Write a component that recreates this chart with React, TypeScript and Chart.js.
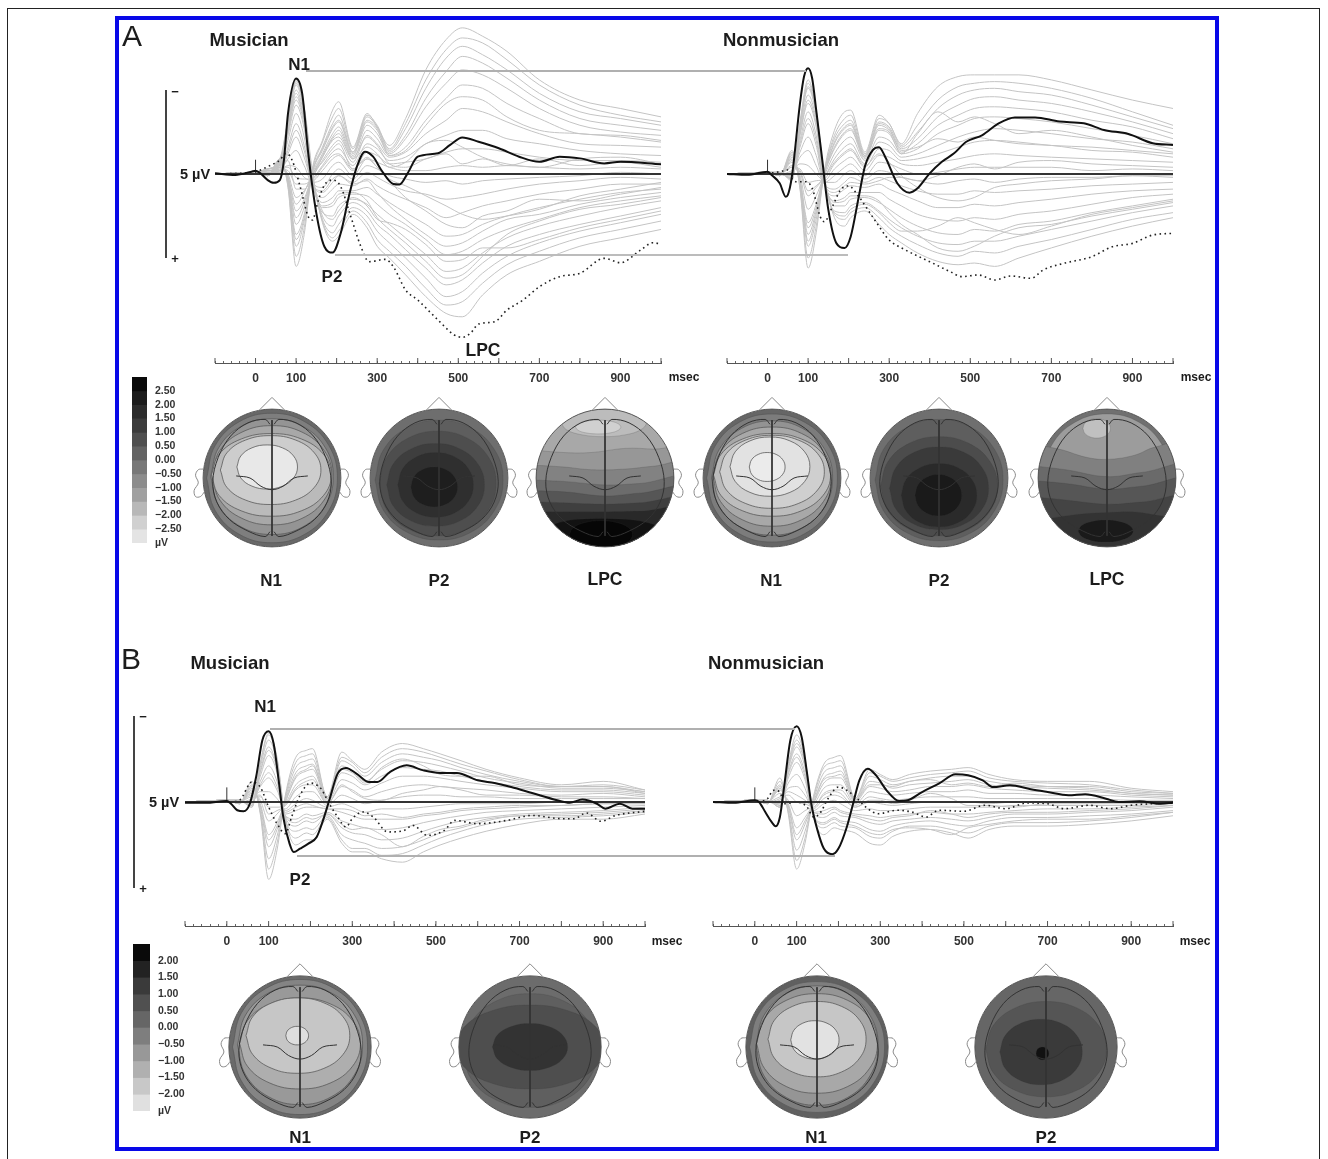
import React, { useEffect, useRef } from "react";
import { Chart, registerables } from "chart.js";

Chart.register(...registerables);

const FONT = '"Liberation Sans", Arial, sans-serif';

// ---------- time grids (ms) ----------
const grayTimes = [-100,0,30,60,80,100,120,140,165,190,205,240,275,300,330,370,420,470,510,560,620,700,800,900,1000];
const axisLabels = [0,100,300,500,700,900];
const stimulusSpike = [0,-.85];

// ---------- Panel A, Musician ----------
const aMusSolidT = [-100,-50,-10,0,10,30,45,60,70,80,100,115,130,150,170,190,210,230,250,270,290,310,340,355,375,400,450,480,510,550,600,650,700,750,800,860,900,1000];
const aMusSolid = [-.04,.06,-.14,-.2,-.08,.36,.52,.36,-.83,-3.6,-5.69,-4.8,-1.23,2.34,4.33,4.68,3.53,1.35,-.44,-1.33,-1.03,-.24,.6,.63,-.04,-1.03,-1.23,-1.73,-2.18,-1.92,-1.53,-1.03,-.73,-1.03,-.93,-.63,-.73,-.58];
const aMusDotT = [-100,0,30,60,75,90,110,130,140,155,170,190,210,235,260,280,320,340,370,400,450,490,510,530,550,590,620,660,700,750,800,860,900,950,980,1000];
const aMusDot = [0,-.14,-.44,-.83,-1.23,-.83,.75,2.54,2.74,1.55,.65,.36,.75,2.54,4.33,5.22,5.08,5.52,6.9,7.5,8.69,9.58,9.72,9.48,8.93,8.79,8.1,7.5,6.71,6.11,5.91,5.02,5.28,4.52,4.09,4.17];
const aMusGray = [
[0,-.1,.1,-.9,.8,5.5,3.6,-.3,-2,-3.8,-4.3,-1.6,-3.6,-2.8,-1.7,-3.3,-6.2,-8,-8.7,-8.2,-7.3,-5.6,-4.4,-3.9,-3.4],
[0,-.1,.1,-.9,.7,4.9,3.2,-.2,-1.9,-3.4,-3.9,-1.5,-3.5,-2.9,-1.5,-3,-5.6,-7.4,-8.1,-7.8,-6.8,-5.3,-4.1,-3.5,-3.1],
[0,-.1,.1,-.8,.5,4.3,2.8,-.1,-1.6,-3,-3.5,-1.3,-3.4,-2.8,-1.4,-2.7,-5.1,-6.9,-7.6,-7.1,-6.2,-4.8,-3.7,-3.3,-2.9],
[0,-.1,.1,-.7,.4,3.6,2.4,-.1,-1.4,-2.7,-3.1,-1.2,-3.1,-2.6,-1.3,-2.3,-4.5,-6.1,-7,-6.6,-5.7,-4.4,-3.3,-2.9,-2.6],
[0,-.1,.1,-.6,.3,3,2,0,-1.2,-2.4,-2.8,-1.1,-2.9,-2.4,-1.2,-2.1,-4,-5.4,-6.2,-5.9,-5.1,-3.9,-2.9,-2.5,-2.3],
[0,-.1,0,-.5,.1,2.2,1.5,.1,-1,-2.1,-2.4,-.9,-2.6,-2.1,-1.1,-1.6,-3.2,-4.5,-5.3,-5.1,-4.2,-3.3,-2.4,-2.3,-2],
[0,-.1,0,-.4,0,1.4,1,.2,-.8,-1.7,-2,-.7,-2.3,-1.8,-1,-1.3,-2.4,-3.2,-3.9,-3.7,-3.1,-2.4,-1.8,-1.7,-1.6],
[0,-.1,0,-.3,-.2,.6,.6,.3,-.5,-1.3,-1.5,-.5,-1.8,-1.5,-.8,-1,-1.8,-2.3,-2.6,-2.6,-2.1,-1.8,-1.4,-1.2,-1.1],
[0,-.1,0,-.2,-.5,-.4,.2,.4,-.2,-.9,-1.1,-.2,-1.3,-1.1,-.6,-.7,-.9,-1.3,-1.5,-1.5,-1.3,-1,-.8,-.8,-.7],
[0,-.1,-.1,-.2,-.9,-1.4,-.5,.5,.3,-.5,-.7,.1,-.9,-.7,-.4,-.2,-.2,-.4,-.5,-.4,-.5,-.4,-.3,-.4,-.3],
[0,-.1,-.1,-.1,-1.2,-2.2,-1,.5,.8,0,-.3,.3,-.5,-.3,.1,.3,.5,.4,.6,.4,.3,.2,.1,-.1,0],
[0,-.1,-.1,-.1,-1.6,-3,-1.7,.6,1.1,.5,.1,.5,-.1,.2,.6,1,1.2,1.5,1.4,1.2,.9,.6,.4,.2,.3],
[0,-.1,-.2,-.2,-2,-3.6,-2.2,.6,1.4,.9,.6,.7,.3,.7,1.1,1.5,2,2.6,2.3,1.9,1.6,1.2,.9,.6,.6],
[0,-.1,-.2,-.3,-2.3,-4.1,-2.7,.5,1.7,1.4,1,1,.8,1.2,1.7,2.3,3,3.7,3.6,3,2.5,2,1.5,1.1,.9],
[0,-.1,-.2,-.4,-2.6,-4.6,-3.1,.4,2,1.9,1.4,1.2,1.3,1.8,2.4,3,3.9,4.8,4.6,3.9,3.3,2.7,2,1.6,1.3],
[0,-.1,-.3,-.5,-2.8,-5,-3.4,.3,2.3,2.5,1.9,1.5,1.8,2.4,3,3.8,4.8,5.8,5.6,4.7,3.8,3.1,2.5,2,1.6],
[0,-.1,-.3,-.6,-3,-5.3,-3.6,.2,2.5,3.1,2.5,1.7,2.2,3,3.6,4.5,5.6,6.6,6.3,5.3,4.3,3.6,3,2.5,2],
[0,-.1,-.3,-.7,-3.1,-5.4,-3.8,.1,2.7,3.5,3,2,2.5,3.4,4.1,5,6.2,7.3,7,5.9,4.9,4.1,3.4,2.9,2.4],
[0,-.1,-.3,-.8,-3.2,-5.5,-3.9,0,2.8,3.8,3.4,2.2,2.9,3.9,4.6,5.5,6.8,7.8,7.6,6.5,5.4,4.6,3.8,3.3,2.8],
[0,-.1,-.3,-.9,-3.2,-5.6,-4,-.2,2.9,4,3.7,2.4,3.2,4.3,5,6,7.3,8.3,8.5,7.2,6,5.2,4.3,3.8,3.3],
[0,-.1,.1,-.4,.2,1.8,1.1,0,-.7,-1.5,-1.8,-.3,-1,-.4,.4,1.4,2.2,3,3.2,2.5,2.2,1.5,1.6,1.2,.8],
[0,-.1,0,-.5,-.8,.9,.9,.2,-1,-2,-2.2,-.9,-1.6,-1.2,-.4,-.7,-1.8,-2,-1.6,-1,-.6,-.4,-.9,-1,-.6],
[0,-.1,.1,-.6,.3,2.6,1.7,.1,-1.1,-2.2,-2.6,-1,-2.2,-1.7,-.6,-.4,-.9,-1.2,-.6,-.9,-.5,-.9,-.5,-.7,-.4],
[0,-.1,0,-.4,-.4,.2,.3,.3,-.4,-1.1,-1.2,-.3,-.9,-.4,.3,.7,1.3,1.9,2.4,2.7,2.5,2.1,1.3,.9,.5],
[0,-.1,-.1,-.2,-1.4,-2.6,-1.4,.6,1,.3,.1,.6,.4,1.1,1.9,2.7,3.6,4.3,4.1,3.4,2.7,2.4,1.8,1.4,1.1],
[0,-.1,-.2,-.4,-2.5,-4.4,-2.9,.4,1.9,1.7,1.2,1.1,1.6,2.6,3.3,4.1,5.2,6.2,6,4.9,3.6,2.8,2.1,1.8,1.4],
[0,-.1,.1,-.7,.5,3.9,2.6,-.1,-1.5,-2.8,-3.2,-1.3,-3.2,-2.7,-1.1,-1.4,-2.9,-4.2,-4.6,-4.4,-3.4,-2.6,-2.4,-2.2,-1.9],
[0,-.1,-.2,-.6,-2.8,-4.8,-3.2,.2,2.2,2.7,2.2,1.4,1.9,2.7,2.9,3.3,4.2,5.2,5.1,4.4,4.4,3.9,3.2,2.7,2.2],
];

// ---------- Panel A, Nonmusician ----------
const aNonSolidT = [-100,-50,0,10,30,45,50,60,80,90,100,110,120,135,150,170,190,205,225,240,260,275,290,320,350,370,400,430,460,490,530,570,610,660,720,780,830,890,950,1000];
const aNonSolid = [0,.05,-.14,.06,.55,1.35,1.25,.16,-4.2,-5.8,-6.29,-5.7,-3.8,-.83,2.14,4.13,4.4,3.73,1.35,-.44,-1.43,-1.59,-1.03,.55,1.11,.85,-.04,-.73,-1.23,-1.92,-2.32,-3.02,-3.37,-3.37,-3.12,-3.02,-2.62,-2.38,-1.83,-1.73];
const aNonDotT = [-100,0,30,50,60,70,95,110,130,140,160,180,200,225,245,270,300,340,400,450,480,520,560,600,650,680,730,800,850,900,950,1000];
const aNonDot = [0,-.04,-.14,-.24,.26,.46,.46,.85,2.54,2.84,1.94,.95,.71,1.35,2.04,2.94,3.93,4.52,5.22,5.81,6.11,6.01,6.31,6.07,6.21,5.71,5.32,4.92,4.33,4.13,3.63,3.53];
const aNonGray = [
[0,-.1,.1,-1.4,.9,5.6,3.5,-.2,-2.6,-3.7,-3.8,-1.3,-3.5,-3,-1.8,-3.6,-5.2,-5.8,-5.9,-5.9,-5.9,-5.6,-5,-4.4,-3.9],
[0,-.1,.1,-1.3,.8,5,3.1,-.1,-2.3,-3.3,-3.5,-1.2,-3.3,-3,-1.7,-2.9,-4.4,-5.2,-5.4,-5.5,-5.4,-5.1,-4.5,-3.7,-2.9],
[0,-.1,.1,-1.2,.6,4.3,2.7,-.1,-2.1,-3,-3.2,-1.1,-3.1,-2.8,-1.6,-2.5,-3.9,-4.7,-5,-5.1,-4.9,-4.7,-4.1,-3.4,-2.7],
[0,-.1,.1,-1,.5,3.6,2.2,0,-1.8,-2.7,-2.9,-1,-2.9,-2.6,-1.5,-2.1,-3.4,-4.1,-4.5,-4.6,-4.4,-4.2,-3.7,-3.1,-2.4],
[0,-.1,.1,-.9,.3,2.9,1.8,0,-1.5,-2.4,-2.6,-.9,-2.6,-2.4,-1.3,-1.8,-2.9,-3.5,-3.9,-4,-3.9,-3.7,-3.2,-2.8,-2.1],
[0,-.1,.1,-.7,.1,2.1,1.3,.1,-1.2,-2,-2.2,-.8,-2.2,-2,-1.2,-1.5,-2.4,-2.9,-3.3,-3.4,-3.3,-3.1,-2.7,-2.3,-1.8],
[0,-.1,0,-.5,-.1,1.3,.8,.2,-.9,-1.6,-1.8,-.6,-1.9,-1.7,-1,-1.2,-1.7,-2.2,-2.5,-2.7,-2.6,-2.4,-2.1,-1.9,-1.5],
[0,-.1,0,-.4,-.3,.5,.4,.3,-.6,-1.2,-1.4,-.4,-1.5,-1.4,-.8,-.9,-1.2,-1.6,-1.9,-2,-1.9,-1.7,-1.6,-1.4,-1.2],
[0,-.1,0,-.2,-.6,-.5,0,.4,-.3,-.8,-1,-.2,-1.1,-1,-.6,-.5,-.7,-.9,-1.1,-1.2,-1.1,-1,-.9,-.8,-.7],
[0,-.1,0,-.1,-1,-1.4,-.5,.5,.1,-.4,-.6,.1,-.7,-.6,-.3,0,-.1,-.3,-.4,-.4,-.4,-.4,-.2,-.3,-.2],
[0,-.1,0,0,-1.3,-2.2,-1.1,.5,.5,0,-.2,.3,-.2,-.1,.2,.4,.6,.4,.3,.5,.3,.2,.2,.1,.2],
[0,-.1,0,.1,-1.6,-3,-1.7,.6,.9,.5,.2,.5,.2,.4,.7,1,1.2,1.2,1,1.1,1,.9,.7,.6,.5],
[0,-.1,0,.2,-2,-3.7,-2.3,.6,1.3,.9,.7,.8,.6,.9,1.2,1.6,2,2,1.8,1.9,1.7,1.5,1.2,1,.9],
[0,-.1,0,.2,-2.3,-4.2,-2.8,.5,1.6,1.4,1.1,1.1,1.1,1.5,1.9,2.4,2.7,2.8,2.6,2.7,2.4,2.2,1.8,1.4,1.2],
[0,-.1,-.1,.3,-2.6,-4.7,-3.2,.4,1.9,1.9,1.5,1.4,1.7,2.1,2.6,3.1,3.5,3.6,3.3,3.4,3,2.8,2.3,1.9,1.5],
[0,-.1,-.1,.3,-2.8,-5.1,-3.5,.3,2.2,2.3,1.9,1.7,2.2,2.7,3.2,3.7,4.1,4.2,4,4,3.7,3.3,2.8,2.3,1.9],
[0,-.1,-.1,.3,-3,-5.4,-3.7,.2,2.4,2.7,2.3,2,2.6,3.2,3.7,4.2,4.7,4.9,4.6,4.7,4.3,3.9,3.3,2.7,2.3],
[0,-.1,-.1,.4,-3.1,-5.6,-3.8,.1,2.6,3.1,2.6,2.2,3,3.6,4.1,4.7,5.2,5.4,5.3,5.5,5,4.4,3.7,3.1,2.6],
[0,-.1,.1,-.8,.4,3.2,2,0,-1.6,-2.5,-2.7,-1,-2.7,-2.5,-1.2,-2.4,-3.7,-3.1,-3.4,-3,-2.4,-2.6,-2.2,-1.7,-1.3],
[0,-.1,0,-.4,-.2,1,.7,.2,-.7,-1.3,-1.5,-.5,-1.2,-.7,.1,.8,1.4,1.6,1.4,.8,.6,.4,.3,.1,.1],
[0,-.1,0,.1,-1.8,-3.3,-2,.6,1.1,.7,.5,.6,.4,.2,.2,.4,.1,-.4,-.6,-.3,-.7,-.8,-.6,-.5,-.4],
[0,-.1,-.1,.3,-2.4,-4.4,-3,.4,1.7,1.6,1.3,1.3,1.6,2.3,3,3.6,4.4,4.6,4.3,3.7,3.2,3,2.5,2.1,1.7],
[0,-.1,.1,-1.1,.5,4,2.4,0,-1.9,-2.8,-3,-1.1,-3,-2.7,-1.4,-1.6,-2.1,-1.9,-2.2,-2,-1.8,-1.7,-1.4,-1.3,-1],
[0,-.1,-.1,.3,-2.9,-5.2,-3.6,.3,2.3,2.5,2.1,1.8,2.3,2.9,3.4,3.4,3.1,2.6,2.9,3.3,3.6,3.1,2.4,2,1.6],
];

// ---------- Panel B, Musician ----------
const bMusSolidT = [-100,-50,-10,0,10,25,40,55,70,85,100,112,125,135,150,160,175,195,215,230,245,265,285,310,340,360,390,430,470,510,550,600,640,680,730,790,820,850,885,905,940,970,1000];
const bMusSolid = [.04,.05,-.05,-.06,.1,.48,.54,.1,-1.45,-3.59,-4.11,-3.39,-1.07,.87,2.42,2.91,2.71,2.42,2.03,1.07,-.1,-1.65,-1.98,-1.65,-1.16,-1.16,-1.74,-2.13,-1.84,-1.69,-1.69,-1.26,-1.1,-.87,-.52,-.1,.04,-.14,.1,.39,.1,.39,.39];
const bMusDotT = [-100,0,30,60,80,100,120,140,155,175,200,225,245,265,285,300,325,350,385,420,445,480,520,545,600,670,730,800,830,860,895,930,1000];
const bMusDot = [0,0,-.1,-1.16,-.87,.29,1.26,1.84,.87,-.39,-1.1,-.78,.1,.87,1.45,.97,.58,.87,1.74,1.69,1.36,1.94,1.65,1.07,1.26,1.07,.78,.97,.97,.64,1.12,.78,.54];
const bMusGray = [
[0,-.1,.1,-1.2,.7,4.5,2.8,-.4,-2.6,-3,-3.1,-.3,-2.9,-2.4,-1.9,-2.9,-3.4,-3.1,-2.8,-2.4,-1.9,-1.4,-1,-1.2,-.7],
[0,-.1,.1,-1,.6,3.9,2.4,-.3,-2.3,-2.7,-2.8,-.3,-2.6,-2.3,-1.7,-2.6,-3.1,-2.9,-2.6,-2.2,-1.8,-1.3,-.9,-1,-.7],
[0,-.1,.1,-.9,.5,3.3,2,-.2,-2,-2.4,-2.5,-.2,-2.4,-2.1,-1.5,-2.3,-2.8,-2.6,-2.4,-2,-1.6,-1.2,-.9,-.9,-.6],
[0,-.1,.1,-.8,.3,2.6,1.6,-.1,-1.7,-2.1,-2.2,-.2,-2.1,-1.8,-1.2,-1.9,-2.4,-2.3,-2.1,-1.8,-1.4,-1.1,-.8,-.8,-.6],
[0,-.1,.1,-.6,.1,1.9,1.2,0,-1.4,-1.8,-1.9,-.1,-1.7,-1.5,-1,-1.5,-2,-1.9,-1.8,-1.5,-1.2,-.9,-.7,-.7,-.5],
[0,-.1,0,-.5,-.1,1.1,.7,.1,-1,-1.4,-1.5,0,-1.3,-1.1,-.7,-1.1,-1.5,-1.5,-1.4,-1.2,-1,-.8,-.6,-.6,-.4],
[0,-.1,0,-.3,-.3,.3,.3,.2,-.7,-1,-1,.1,-.9,-.7,-.3,-.6,-.9,-1,-.9,-.8,-.7,-.5,-.4,-.5,-.3],
[0,-.1,0,-.2,-.6,-.6,-.2,.4,-.3,-.6,-.6,.2,-.4,-.2,.1,-.1,-.3,-.4,-.4,-.3,-.3,-.2,-.2,-.2,-.2],
[0,-.1,0,-.1,-.9,-1.4,-.7,.5,.1,-.2,-.1,.3,.1,.3,.6,.4,.4,.3,.2,.1,.1,.1,0,0,0],
[0,-.1,0,0,-1.2,-2.1,-1.2,.7,.5,.3,.3,.4,.6,.8,1,1,1,.8,.7,.5,.4,.3,.2,.1,.1],
[0,-.1,-.1,.1,-1.5,-2.7,-1.7,.8,1,.7,.8,.6,1.1,1.3,1.5,1.6,1.5,1.2,1,.8,.6,.5,.4,.3,.2],
[0,-.1,-.1,.2,-1.8,-3.2,-2,.9,1.4,1.1,1.2,.7,1.5,1.8,1.9,2.2,2.1,1.7,1.4,1.1,.9,.7,.6,.5,.3],
[0,-.1,-.1,.2,-2,-3.6,-2.3,1,1.7,1.5,1.6,.8,1.9,2.2,2.4,2.7,2.6,2.2,1.8,1.5,1.1,.8,.8,.7,.5],
[0,-.1,-.1,.3,-2.2,-3.9,-2.5,1,2.1,1.8,1.9,.9,2.2,2.7,2.7,3.1,3,2.5,2.1,1.7,1.3,1,.9,.8,.6],
[0,-.1,-.1,.3,-2.3,-4,-2.6,1,2.5,2.2,2.2,1,2.4,2.9,2.9,3.3,3.5,2.9,2.5,2.1,1.7,1.3,1,1,.7],
[0,-.1,.1,-.7,.2,2.2,1.4,0,-1.5,-1.9,-2.1,-.2,-1.9,-1.7,-1.1,-2,-2.5,-2.1,-1.6,-1.5,-1.5,-1,-.9,-.9,-.5],
[0,-.1,0,-.4,-.4,.7,.5,.2,-.8,-1.2,-1.3,.1,-1,-.6,-.2,-.1,-.5,-.7,-.9,-.7,-.4,-.4,-.3,-.3,-.2],
[0,-.1,0,0,-1,-1.7,-.9,.6,.3,.1,.2,.4,.4,.5,.8,.7,.9,.7,.6,.4,.3,.2,.2,.1,.1],
[0,-.1,-.1,.2,-1.7,-3,-1.9,.8,1.2,.9,1,.7,1.3,1.6,1.5,1.9,2.6,2,1.6,1.4,1,.8,.7,.6,.4],
];

// ---------- Panel B, Nonmusician ----------
const bNonSolidT = [-100,-50,0,10,25,40,50,60,70,85,100,112,125,135,150,165,185,200,220,235,250,270,290,315,345,365,400,440,480,510,545,570,610,660,700,750,790,840,870,920,970,1000];
const bNonSolid = [0,.05,-.1,0,.58,1.16,1.41,.87,-.87,-3.59,-4.4,-3.78,-1.65,.1,1.65,2.71,3.04,2.71,1.45,.1,-1.26,-1.94,-1.55,-.68,-.06,-.1,-.58,-1.07,-1.61,-1.55,-1.26,-.87,-.97,-.74,-.58,-.39,-.45,-.19,0,-.04,.1,.04];
const bNonDotT = [-100,0,30,45,60,70,100,125,140,155,175,200,220,245,270,295,340,375,410,440,500,550,600,650,700,740,800,850,900,950,1000];
const bNonDot = [0,0,-.19,-.68,-.58,.1,0,.29,.87,.68,-.19,-.87,-.68,-.19,.39,.68,.48,.58,.87,.48,.54,.19,.39,.06,.1,.39,.19,.39,.19,.1,.04];
const bNonGray = [
[0,-.1,.1,-1.4,.7,3.9,2.4,-.3,-2.2,-2.6,-2.7,-.2,-1.9,-1.6,-1.3,-1.6,-1.8,-1.9,-2,-1.6,-1.3,-1.2,-1.2,-.8,-.6],
[0,-.1,.1,-1.2,.6,3.4,2.1,-.2,-2,-2.3,-2.4,-.2,-1.7,-1.5,-1.2,-1.4,-1.6,-1.7,-1.8,-1.4,-1.2,-1.1,-1,-.7,-.5],
[0,-.1,.1,-1,.5,2.8,1.7,-.1,-1.7,-2,-2.1,-.1,-1.5,-1.3,-1,-1.2,-1.4,-1.5,-1.5,-1.2,-1,-.9,-.9,-.6,-.5],
[0,-.1,.1,-.9,.3,2.2,1.3,0,-1.4,-1.7,-1.8,-.1,-1.2,-1.1,-.8,-1,-1.1,-1.2,-1.3,-1,-.9,-.8,-.7,-.5,-.4],
[0,-.1,0,-.7,.1,1.5,.9,.1,-1.1,-1.4,-1.4,0,-.9,-.8,-.6,-.7,-.9,-.9,-1,-.8,-.7,-.6,-.6,-.4,-.3],
[0,-.1,0,-.5,-.1,.8,.5,.2,-.8,-1,-1,.1,-.6,-.5,-.4,-.5,-.6,-.6,-.7,-.5,-.5,-.4,-.4,-.3,-.2],
[0,-.1,0,-.3,-.4,0,.1,.3,-.5,-.7,-.7,.2,-.3,-.2,-.1,-.2,-.3,-.3,-.3,-.2,-.2,-.2,-.2,-.1,-.1],
[0,-.1,0,-.1,-.8,-.9,-.4,.4,-.2,-.4,-.3,.3,0,.1,.2,.1,0,0,0,.1,0,0,0,0,0],
[0,-.1,0,0,-1.1,-1.6,-.8,.5,.1,-.1,.1,.5,.4,.5,.5,.4,.3,.3,.3,.3,.2,.2,.2,.2,.1],
[0,-.1,0,.1,-1.4,-2.3,-1.3,.6,.5,.3,.5,.7,.8,.9,.8,.7,.6,.7,.7,.6,.5,.4,.4,.3,.2],
[0,-.1,-.1,.2,-1.7,-2.8,-1.7,.7,.9,.6,.8,.9,1.2,1.3,1.1,1,.9,1,1.1,.9,.7,.7,.6,.5,.3],
[0,-.1,-.1,.2,-1.9,-3.2,-2,.8,1.2,.9,1.1,1.2,1.6,1.7,1.4,1.2,1.1,1.3,1.4,1.1,.9,.9,.8,.7,.5],
[0,-.1,-.1,.3,-2.1,-3.6,-2.3,.8,1.5,1.2,1.4,1.5,2,2.1,1.7,1.4,1.4,1.6,1.8,1.4,1.2,1.2,1.1,.9,.6],
[0,-.1,-.1,.3,-2.2,-3.9,-2.5,.8,1.9,1.5,1.6,1.8,2.4,2.5,2,1.7,1.6,1.8,2.1,1.6,1.4,1.4,1.3,1.1,.8],
[0,-.1,.1,-.8,.2,1.9,1.1,.1,-1.3,-1.5,-1.6,-.1,-1,-1,-.9,-1.2,-1.3,-1,-1.1,-.9,-1.1,-.9,-.8,-.5,-.4],
[0,-.1,0,-.2,-.6,-.4,-.1,.3,-.4,-.6,-.5,.3,-.1,-.1,.1,-.1,-.5,-.2,.2,.2,.3,.1,.1,.1,0],
[0,-.1,0,.1,-1.6,-2.6,-1.5,.6,.7,.4,.6,.8,1,1.1,.9,.8,.5,.7,.9,.7,.6,.6,.5,.4,.2],
[0,-.1,-.1,.3,-2,-3.4,-2.2,.8,1.3,1,1.2,1.4,1.8,1.9,1.6,1.5,1.6,1.9,1.5,1.3,1.1,1,1,.8,.6],
];

// ---------- scalp-map shapes: contour rings [centre x, centre y, radius x, radius y], head radius = 1 ----------
const unitRing = [[-1,0],[-.87,.5],[-.5,.87],[0,1],[.5,.87],[.87,.5],[1,0],[.87,-.5],[.5,-.87],[0,-1],[-.5,-.87],[-.87,-.5],[-1,0]];
const nosePoints = [[-.18,.99],[0,1.17],[.18,.99]];
const earLeftPoints = [[-1,.13],[-1.07,.12],[-1.11,.04],[-1.07,-.07],[-1.13,-.18],[-1.11,-.27],[-1.04,-.27],[-.98,-.2]];
const earRightPoints = [[1,.13],[1.07,.12],[1.11,.04],[1.07,-.07],[1.13,-.18],[1.11,-.27],[1.04,-.27],[.98,-.2]];
const hemiLeftPoints = [[-.03,.78],[-.1,.85],[-.35,.8],[-.6,.61],[-.78,.3],[-.86,-.05],[-.8,-.35],[-.62,-.6],[-.35,-.77],[-.1,-.85],[-.03,-.78]];
const hemiRightPoints = [[.03,.78],[.1,.85],[.35,.8],[.6,.61],[.78,.3],[.86,-.05],[.8,-.35],[.62,-.6],[.35,-.77],[.1,-.85],[.03,-.78]];
const midlinePoints = [[0,.84],[0,-.84]];
const sulcusPoints = [[-.52,.03],[-.32,0],[-.16,-.12],[0,-.17],[.16,-.12],[.32,0],[.52,.03]];

const n1MusRings = [[0,0,.95,.94],[0,.02,.89,.84],[0,.04,.87,.72],[-.01,.045,.87,.6],[-.02,.115,.73,.5],[-.07,.16,.44,.32]];
const n1MusGrays = ["#7e7e7e","#949494","#a8a8a8","#bababa","#cdcdcd","#e8e8e8"];
const p2MusRings = [[0,-.03,.93,.87],[-.02,-.08,.85,.76],[-.05,-.1,.71,.6],[-.05,-.1,.55,.47],[-.07,-.13,.34,.29]];
const p2MusGrays = ["#5e5e5e","#4e4e4e","#3e3e3e","#2f2f2f","#1e1e1e"];
const lpcMusTop = [[-.02,.8,.62,.2],[-.1,.74,.33,.1]];
const lpcMusTopGrays = ["#bcbcbc","#d0d0d0"];
const lpcMusCurves = [
  [[-1.3,.43],[-.6,.37],[-.2,.37],[.3,.43],[.7,.42],[1.3,.4]],
  [[-1.3,.2],[-.6,.16],[-.2,.12],[.3,.13],[.7,.17],[1.3,.2]],
  [[-1.3,-.02],[-.6,-.05],[0,-.1],[.5,-.08],[1.3,-.03]],
  [[-1.3,-.18],[-.6,-.2],[0,-.26],[.5,-.22],[1.3,-.18]],
  [[-1.3,-.33],[-.6,-.36],[0,-.38],[.5,-.36],[1.3,-.33]],
  [[-1.3,-.48],[-.6,-.49],[0,-.49],[.5,-.48],[1.3,-.47]],
  [[-1.3,-.85],[-.75,-.67],[-.4,-.6],[.3,-.6],[.7,-.67],[1.3,-.88]],
];
const lpcMusCurveGrays = ["#979797","#828282","#6c6c6c","#565656","#3f3f3f","#292929","#121212"];
const lpcMusCore = [[-.06,-.82,.46,.2]];
const lpcMusCoreGrays = ["#060606"];

const n1NonRings = [[0,0,.95,.93],[0,0,.88,.83],[0,.02,.86,.72],[0,.045,.85,.6],[0,.09,.76,.53],[-.03,.165,.58,.43],[-.07,.16,.26,.21]];
const n1NonGrays = ["#7c7c7c","#939393","#a8a8a8","#bcbcbc","#cfcfcf","#e2e2e2","#ebebeb"];
const p2NonRings = [[0,-.03,.93,.88],[0,-.12,.85,.72],[0,-.15,.72,.6],[0,-.25,.55,.46],[-.01,-.25,.34,.3]];
const p2NonGrays = ["#5e5e5e","#4c4c4c","#3a3a3a","#2a2a2a","#1a1a1a"];
const lpcNonTop = [[0,0,.93,.93],[-.15,.72,.2,.14]];
const lpcNonTopGrays = ["#9c9c9c","#c0c0c0"];
const lpcNonCurves = [
  [[-1.3,.52],[-.7,.42],[-.3,.3],[0,.27],[.4,.33],[.7,.45],[1.3,.52]],
  [[-1.3,.2],[-.6,.12],[0,.02],[.5,.08],[1.3,.15]],
  [[-1.3,-.02],[-.6,-.08],[0,-.16],[.5,-.12],[1.3,-.05]],
  [[-1.3,-.25],[-.6,-.32],[0,-.38],[.5,-.35],[1.3,-.3]],
  [[-1.3,-.68],[-.6,-.55],[0,-.5],[.6,-.52],[1.3,-.75]],
];
const lpcNonCurveGrays = ["#808080","#6a6a6a","#565656","#444444","#333333"];
const lpcNonCore = [[-.02,-.77,.4,.16]];
const lpcNonCoreGrays = ["#1a1a1a"];

const n1BMusRings = [[0,0,.95,.95],[0,.03,.88,.84],[0,.05,.85,.64],[-.03,.16,.73,.53],[-.04,.16,.16,.13]];
const n1BMusGrays = ["#848484","#999999","#aeaeae","#c6c6c6","#dedede"];
const p2BMusRings = [[0,-.05,.95,.8],[0,0,1.05,.59],[0,0,.53,.33]];
const p2BMusGrays = ["#5f5f5f","#4e4e4e","#333333"];
const n1BNonRings = [[0,0,.95,.92],[0,.02,.86,.84],[0,.05,.85,.7],[0,.11,.69,.53],[-.03,.1,.34,.27]];
const n1BNonGrays = ["#7e7e7e","#959595","#a8a8a8","#c6c6c6","#e2e2e2"];
const p2BNonRings = [[0,-.03,.85,.67],[-.07,-.07,.58,.46],[-.05,-.09,.09,.09]];
const p2BNonGrays = ["#555555","#3a3a3a","#111111"];

// ---------- colour bars ----------
const barEdgesA = [3,2.5,2,1.5,1,.5,0,-.5,-1,-1.5,-2,-2.5,-3];
const barGraysA = ["#0a0a0a","#1c1c1c","#2c2c2c","#3c3c3c","#4f4f4f","#636363","#787878","#8c8c8c","#a0a0a0","#b8b8b8","#d0d0d0","#e4e4e4"];
const barEdgesB = [2.5,2,1.5,1,.5,0,-.5,-1,-1.5,-2,-2.5];
const barGraysB = ["#0a0a0a","#222222","#3a3a3a","#505050","#666666","#7e7e7e","#989898","#b0b0b0","#c8c8c8","#e0e0e0"];

// ---------- layout of the page ----------
type Erp = { x0:number; x1:number; base:number; pxUv:number; top:number; ruler:number; gray:number[][]; st:number[]; sv:number[]; dt:number[]; dv:number[] };
const erpPanels: Erp[] = [
  { x0:215, x1:661, base:174, pxUv:16.8, top:22, ruler:363, gray:aMusGray, st:aMusSolidT, sv:aMusSolid, dt:aMusDotT, dv:aMusDot },
  { x0:727, x1:1173, base:174, pxUv:16.8, top:22, ruler:363, gray:aNonGray, st:aNonSolidT, sv:aNonSolid, dt:aNonDotT, dv:aNonDot },
  { x0:185, x1:645, base:802, pxUv:17.2, top:700, ruler:926, gray:bMusGray, st:bMusSolidT, sv:bMusSolid, dt:bMusDotT, dv:bMusDot },
  { x0:713, x1:1173, base:802, pxUv:17.2, top:700, ruler:926, gray:bNonGray, st:bNonSolidT, sv:bNonSolid, dt:bNonDotT, dv:bNonDot },
];

const toPts = (rows:number[][]) => rows.map(([x,y]) => ({ x, y }));
const ring = ([cx,cy,rx,ry]:number[]) => unitRing.map(([u,v]) => ({ x: cx+u*rx, y: cy+v*ry }));
const band = (curve:number[][]) => { const p = toPts(curve); return [...p, {x:1.34,y:-1.34},{x:-1.34,y:-1.34}, p[0]]; };
const ringsOf = (rows:number[][], grays:string[]) => rows.map((r,i) => ({ pts: ring(r), gray: grays[i] }));
const bandsOf = (rows:number[][][], grays:string[]) => rows.map((r,i) => ({ pts: band(r), gray: grays[i] }));

const softEdge = "rgba(60,60,60,0.25)";
const maps = [
  { cx:272, cy:478, r:69, disc:"#686868", edge:"#5a5a5a", shapes: ringsOf(n1MusRings,n1MusGrays) },
  { cx:439, cy:478, r:69, disc:"#6e6e6e", edge:softEdge, shapes: ringsOf(p2MusRings,p2MusGrays) },
  { cx:605, cy:478, r:69, disc:"#a8a8a8", edge:softEdge, shapes: [...ringsOf(lpcMusTop,lpcMusTopGrays), ...bandsOf(lpcMusCurves,lpcMusCurveGrays), ...ringsOf(lpcMusCore,lpcMusCoreGrays)] },
  { cx:772, cy:478, r:69, disc:"#666666", edge:"#5a5a5a", shapes: ringsOf(n1NonRings,n1NonGrays) },
  { cx:939, cy:478, r:69, disc:"#6f6f6f", edge:softEdge, shapes: ringsOf(p2NonRings,p2NonGrays) },
  { cx:1107, cy:478, r:69, disc:"#707070", edge:softEdge, shapes: [...ringsOf(lpcNonTop,lpcNonTopGrays), ...bandsOf(lpcNonCurves,lpcNonCurveGrays), ...ringsOf(lpcNonCore,lpcNonCoreGrays)] },
  { cx:300, cy:1047, r:71, disc:"#6a6a6a", edge:"#5a5a5a", shapes: ringsOf(n1BMusRings,n1BMusGrays) },
  { cx:530, cy:1047, r:71, disc:"#6c6c6c", edge:softEdge, shapes: ringsOf(p2BMusRings,p2BMusGrays) },
  { cx:817, cy:1047, r:71, disc:"#606060", edge:"#5a5a5a", shapes: ringsOf(n1BNonRings,n1BNonGrays) },
  { cx:1046, cy:1047, r:71, disc:"#666666", edge:softEdge, shapes: ringsOf(p2BNonRings,p2BNonGrays) },
];

const colorBars = [
  { x:132, top:377, bottom:543, w:15, edges:barEdgesA, grays:barGraysA, font:10.5 },
  { x:133, top:944, bottom:1111, w:17, edges:barEdgesB, grays:barGraysB, font:10.5 },
];

// text: [string, x centre, y centre, size, bold]
const pageTexts: [string,number,number,number,boolean][] = [
  ["A",132,36,30,false],["Musician",249,40,18.5,true],["Nonmusician",781,40,18.5,true],
  ["N1",299,64,17,true],["P2",332,276,17,true],["LPC",483,351,17.5,true],
  ["5 µV",195,174,14.5,true],["−",175,91,13,true],["+",175,258,13,true],
  ["msec",684,377,12,true],["msec",1196,377,12,true],
  ["N1",271,580,17,true],["P2",439,580,17,true],["LPC",605,580,17.5,true],
  ["N1",771,580,17,true],["P2",939,580,17,true],["LPC",1107,580,17.5,true],
  ["B",131,659,30,false],["Musician",230,663,18.5,true],["Nonmusician",766,663,18.5,true],
  ["N1",265,706,17,true],["P2",300,879,17,true],
  ["5 µV",164,802,14.5,true],["−",143,716,13,true],["+",143,888,13,true],
  ["msec",667,941,12,true],["msec",1195,941,12,true],
  ["N1",300,1137,17,true],["P2",530,1137,17,true],["N1",816,1137,17,true],["P2",1046,1137,17,true],
];
// guide rules: [left, top, width, height, colour]
const rules: [number,number,number,number,string][] = [
  [306,70,500,1.5,"#b0b0b0"],[335,254,513,1.5,"#bcbcbc"],[270,728,525,1.5,"#b0b0b0"],[297,855,538,1.5,"#b0b0b0"],
  [165,90,1.5,168,"#444"],[133,716,1.5,172,"#444"],
];

const majorTicks = {
  id: "majorTicks",
  afterDraw(chart:any) {
    const { ctx, chartArea, scales } = chart;
    ctx.save(); ctx.strokeStyle = "#555"; ctx.lineWidth = 1;
    for (const t of scales.x.ticks) {
      if (t.value % 100 !== 0) continue;
      const px = scales.x.getPixelForValue(t.value);
      ctx.beginPath(); ctx.moveTo(px, chartArea.bottom); ctx.lineTo(px, chartArea.bottom-5); ctx.stroke();
    }
    ctx.restore();
  },
};

const headClip = {
  id: "headClip",
  beforeDatasetsDraw(chart:any) {
    const { ctx, scales:{x,y} } = chart;
    ctx.save(); ctx.beginPath();
    ctx.arc(x.getPixelForValue(0), y.getPixelForValue(0), x.getPixelForValue(1)-x.getPixelForValue(0), 0, Math.PI*2);
    ctx.clip();
  },
  afterDatasetDraw(chart:any, args:any) {
    if (chart.data.datasets[args.index].endClip) chart.ctx.restore();
  },
};

function erpConfig(p:Erp):any {
  const grayLines = p.gray.map((row) => ({
    data: row.map((y,i) => ({ x: grayTimes[i], y })), showLine:true, pointRadius:0, borderColor:"#c4c4c4", borderWidth:1, cubicInterpolationMode:"monotone",
  }));
  const datasets:any[] = [
    ...grayLines,
    { data: p.dt.map((x,i) => ({ x, y:p.dv[i] })), showLine:true, pointRadius:0, borderColor:"#222", borderWidth:1.6, borderDash:[1.6,3.4], cubicInterpolationMode:"monotone" },
    { data: [{x:-100,y:0},{x:1000,y:0}], showLine:true, pointRadius:0, borderColor:"#333", borderWidth:2 },
    { data: [{x:stimulusSpike[0],y:0},{x:stimulusSpike[0],y:stimulusSpike[1]}], showLine:true, pointRadius:0, borderColor:"#333", borderWidth:1 },
    { data: p.st.map((x,i) => ({ x, y:p.sv[i] })), showLine:true, pointRadius:0, borderColor:"#111", borderWidth:2, cubicInterpolationMode:"monotone" },
  ];
  datasets.forEach((d,i) => { d.order = datasets.length-i; });
  return {
    type:"scatter",
    data:{ datasets },
    plugins:[majorTicks],
    options:{
      animation:false, responsive:false, events:[], devicePixelRatio:1,
      layout:{ padding:{ left:12, right:12, top:0, bottom:0 } },
      plugins:{ legend:{ display:false }, tooltip:{ enabled:false } },
      scales:{
        x:{ type:"linear", min:-100, max:1000,
          border:{ display:true, color:"#555", width:1 },
          grid:{ drawOnChartArea:false, tickLength:-2, tickColor:"#666" },
          ticks:{ stepSize:20, autoSkip:false, maxRotation:0, padding:10, color:"#333",
            font:{ family:FONT, size:12, weight:"bold" },
            callback:(v:number) => axisLabels.includes(v) ? String(v) : "" },
          afterFit:(s:any) => { s.height = 28; } },
        y:{ display:false, reverse:true, min:-(p.base-p.top)/p.pxUv, max:(p.ruler-p.base)/p.pxUv },
      },
    },
  };
}

function mapConfig(m:any):any {
  const outline = (pts:number[][], color:string, width:number, extra:any = {}) => ({
    data: toPts(pts), showLine:true, pointRadius:0, borderColor:color, borderWidth:width, tension:.35, ...extra,
  });
  const datasets:any[] = [
    { data:[{x:0,y:0}], pointBackgroundColor:m.disc, pointBorderWidth:0,
      pointRadius:(c:any) => c.chart.scales.x.getPixelForValue(1)-c.chart.scales.x.getPixelForValue(0) },
    ...m.shapes.map((s:any) => ({ data:s.pts, showLine:true, pointRadius:0, fill:"shape", backgroundColor:s.gray, borderColor:m.edge, borderWidth:.8, tension:.4 })),
    outline(sulcusPoints,"#333",1,{ endClip:false }),
    outline(midlinePoints,"#333",1,{ tension:0 }),
    outline(hemiLeftPoints,"#333",1),
    outline(hemiRightPoints,"#333",1,{ endClip:true }),
    { data:[{x:0,y:0}], pointBackgroundColor:"rgba(0,0,0,0)", pointBorderColor:"#555", pointBorderWidth:1,
      pointRadius:(c:any) => c.chart.scales.x.getPixelForValue(1)-c.chart.scales.x.getPixelForValue(0) },
    outline(nosePoints,"#8a8a8a",1,{ tension:0 }),
    outline(earLeftPoints,"#8a8a8a",1),
    outline(earRightPoints,"#8a8a8a",1),
  ];
  datasets.forEach((d,i) => { d.order = datasets.length-i; });
  return {
    type:"scatter",
    data:{ datasets },
    plugins:[headClip],
    options:{
      animation:false, responsive:false, events:[], devicePixelRatio:1,
      layout:{ padding:0 },
      plugins:{ legend:{ display:false }, tooltip:{ enabled:false } },
      scales:{
        x:{ display:false, type:"linear", min:-1.35, max:1.35 },
        y:{ display:false, type:"linear", min:-1.35, max:1.35 },
      },
    },
  };
}

function barConfig(b:any):any {
  return {
    type:"bar",
    data:{ labels:[""], datasets: b.grays.map((g:string,i:number) => ({
      data:[[b.edges[i+1], b.edges[i]]], backgroundColor:g, barPercentage:1, categoryPercentage:1, borderWidth:0,
    })) },
    options:{
      animation:false, responsive:false, events:[], devicePixelRatio:1,
      layout:{ padding:{ top:8, bottom:8, left:0, right:0 } },
      plugins:{ legend:{ display:false }, tooltip:{ enabled:false } },
      scales:{
        x:{ display:false, stacked:true },
        y:{ position:"right", min:b.edges[b.edges.length-1], max:b.edges[0],
          grid:{ display:false, drawTicks:false }, border:{ display:false },
          afterFit:(s:any) => { s.width = 45; s.paddingTop = 0; s.paddingBottom = 0; },
          ticks:{ stepSize:.5, autoSkip:false, padding:8, color:"#333", font:{ family:FONT, size:b.font, weight:"bold" },
            callback:(v:number) => v === b.edges[0] ? "" : v === b.edges[b.edges.length-1] ? "µV" : v < 0 ? "−"+Math.abs(v).toFixed(2) : Math.abs(v).toFixed(2) } },
      },
    },
  };
}

export default function App() {
  const erpRefs = useRef<(HTMLCanvasElement|null)[]>([]);
  const mapRefs = useRef<(HTMLCanvasElement|null)[]>([]);
  const barRefs = useRef<(HTMLCanvasElement|null)[]>([]);
  useEffect(() => {
    const charts:any[] = [];
    erpPanels.forEach((p,i) => charts.push(new Chart(erpRefs.current[i] as any, erpConfig(p))));
    maps.forEach((m,i) => charts.push(new Chart(mapRefs.current[i] as any, mapConfig(m))));
    colorBars.forEach((b,i) => charts.push(new Chart(barRefs.current[i] as any, barConfig(b))));
    return () => charts.forEach((c) => c.destroy());
  }, []);
  const abs:any = { position:"absolute", display:"block" };
  return (
    <div style={{ position:"absolute", left:0, top:0, width:1328, height:1159, overflow:"hidden", background:"#fff", fontFamily:FONT }}>
      <div style={{ position:"absolute", left:0, top:0, width:1328, height:1159, filter:"blur(0.5px)" }}>
        {erpPanels.map((p,i) => (
          <canvas key={i} ref={(el) => { erpRefs.current[i] = el; }} width={p.x1-p.x0+24} height={p.ruler-p.top+28}
            style={{ ...abs, left:p.x0-12, top:p.top }} />
        ))}
        {maps.map((m,i) => {
          const s = Math.round(2.7*m.r);
          return <canvas key={i} ref={(el) => { mapRefs.current[i] = el; }} width={s} height={s}
            style={{ ...abs, left:m.cx-s/2, top:m.cy-s/2 }} />;
        })}
        {colorBars.map((b,i) => (
          <canvas key={i} ref={(el) => { barRefs.current[i] = el; }} width={b.w+45} height={b.bottom-b.top+16}
            style={{ ...abs, left:b.x, top:b.top-8 }} />
        ))}
        {rules.map(([l,t,w,h,c],i) => (
          <div key={i} style={{ position:"absolute", left:l, top:t, width:w, height:h, background:c }} />
        ))}
        {pageTexts.map(([s,x,y,size,bold],i) => (
          <div key={i} style={{ position:"absolute", left:x, top:y, transform:"translate(-50%,-50%)", fontSize:size, fontWeight:bold?"bold":"normal", color:"#1c1c1c", whiteSpace:"nowrap", lineHeight:1 }}>{s}</div>
        ))}
      </div>
      <div style={{ position:"absolute", left:7, top:8, width:1313, height:1160, border:"1px solid #222", boxSizing:"border-box" }} />
      <div style={{ position:"absolute", left:115, top:16, width:1104, height:1135, border:"4px solid #0808e8", boxSizing:"border-box" }} />
    </div>
  );
}
